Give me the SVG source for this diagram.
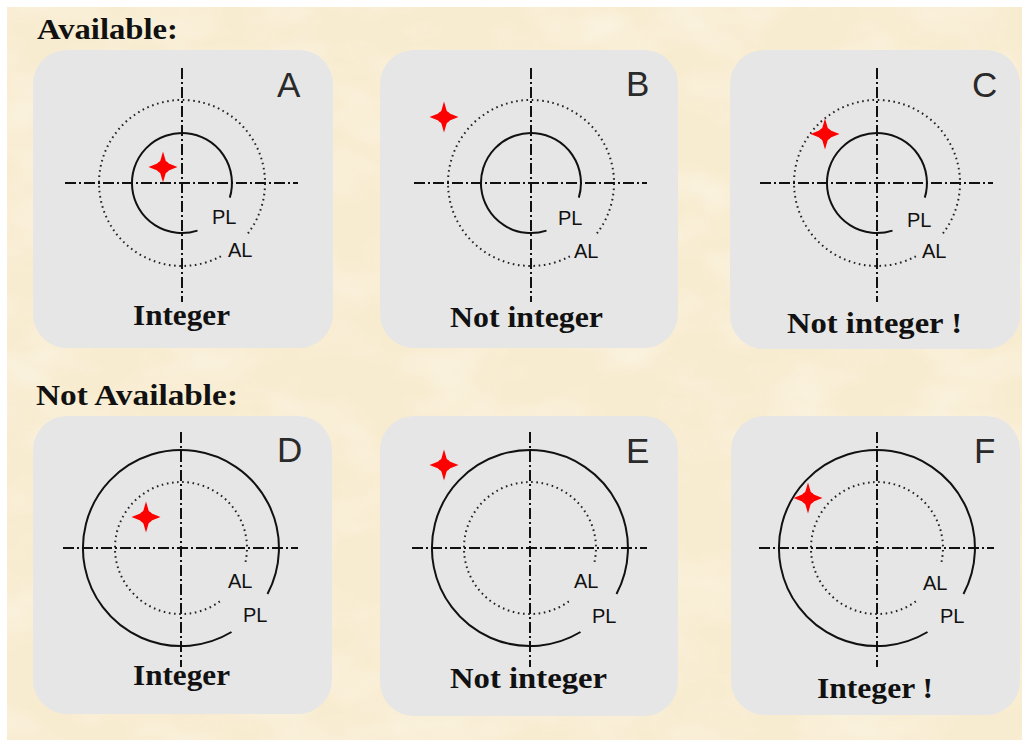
<svg xmlns="http://www.w3.org/2000/svg" width="1022" height="742" viewBox="0 0 1022 742">
<style>
.panel{fill:#e6e6e6}
.axis{fill:none;stroke:#111;stroke-width:2;stroke-dasharray:11 3 2 3}
.pl{fill:none;stroke:#111;stroke-width:2}
.al{fill:none;stroke:#222;stroke-width:2;stroke-dasharray:1.6 3.6}
.star{fill:#f00}
.letter{font-family:"Liberation Sans",Arial,sans-serif;font-size:35px;fill:#2a2a2a}
.lbl{font-family:"Liberation Sans",Arial,sans-serif;font-size:20px;fill:#111}
.cap{font-family:"Liberation Serif","Times New Roman",serif;font-weight:bold;font-size:29px;fill:#111}
.head{font-family:"Liberation Serif","Times New Roman",serif;font-weight:bold;font-size:29px;fill:#111}
</style>
<defs>
<filter id="tex" x="0" y="0" width="100%" height="100%">
<feTurbulence type="fractalNoise" baseFrequency="0.012 0.02" numOctaves="3" seed="7"/>
<feColorMatrix type="matrix" values="0 0 0 0 1  0 0 0 0 0.98  0 0 0 0 0.94  2.2 0 0 0 -0.95"/>
</filter>
<g id="star">
<path d="M0,-15.5 L3.2,-4.5 L14.5,0 L3.2,4.5 L0,15.5 L-3.2,4.5 L-14.5,0 L-3.2,-4.5 Z"/>
<circle r="6.6"/>
</g>
<g id="topGeom">
<line class="axis" x1="-117" y1="0" x2="116" y2="0"/>
<line class="axis" x1="0" y1="-115" x2="0" y2="119"/>
<path class="pl" d="M15.5,47.6 A50,50 0 1 1 47.8,14.6"/>
<path class="al" d="M38.9,73.3 A83,83 0 1 1 65.4,51.1"/>
</g>
<g id="botGeom">
<line class="axis" x1="-118" y1="0" x2="117" y2="0"/>
<line class="axis" x1="0" y1="-116" x2="0" y2="119"/>
<path class="pl" d="M50.5,84 A98,98 0 1 1 86.5,46"/>
<path class="al" d="M38.8,53.4 A66,66 0 1 1 64.3,14.8"/>
</g>
</defs>
<rect width="1022" height="742" fill="#ffffff"/>
<rect x="7" y="7" width="1015" height="733" fill="#f8ecd0"/>
<rect x="7" y="7" width="1015" height="733" filter="url(#tex)" opacity="0.4"/>

<text class="head" x="37" y="39" textLength="141" lengthAdjust="spacingAndGlyphs">Available:</text>
<text class="head" x="36" y="405" textLength="202" lengthAdjust="spacingAndGlyphs">Not Available:</text>

<g id="panelA">
<rect class="panel" x="33" y="50" width="300" height="298" rx="34"/>
<use href="#topGeom" transform="translate(182,183)"/>
<use href="#star" class="star" x="163" y="167"/>
<text class="letter" x="277" y="97">A</text>
<text class="lbl" x="212" y="224">PL</text>
<text class="lbl" x="228" y="257">AL</text>
<text class="cap" x="133" y="325" textLength="97" lengthAdjust="spacingAndGlyphs">Integer</text>
</g>

<g id="panelB">
<rect class="panel" x="380" y="50" width="298" height="298" rx="34"/>
<use href="#topGeom" transform="translate(531,183)"/>
<use href="#star" class="star" x="444" y="117"/>
<text class="letter" x="626" y="96">B</text>
<text class="lbl" x="558" y="225">PL</text>
<text class="lbl" x="574" y="258">AL</text>
<text class="cap" x="450" y="327" textLength="153" lengthAdjust="spacingAndGlyphs">Not integer</text>
</g>

<g id="panelC">
<rect class="panel" x="730" y="50" width="290" height="299" rx="34"/>
<use href="#topGeom" transform="translate(877,183)"/>
<use href="#star" class="star" x="825" y="134"/>
<text class="letter" x="972" y="97">C</text>
<text class="lbl" x="907" y="227">PL</text>
<text class="lbl" x="922" y="258">AL</text>
<text class="cap" x="787" y="333" textLength="175" lengthAdjust="spacingAndGlyphs">Not integer !</text>
</g>

<g id="panelD">
<rect class="panel" x="33" y="416" width="299" height="298" rx="34"/>
<use href="#botGeom" transform="translate(181,548)"/>
<use href="#star" class="star" x="146" y="517"/>
<text class="letter" x="277" y="462">D</text>
<text class="lbl" x="228" y="588">AL</text>
<text class="lbl" x="243" y="622">PL</text>
<text class="cap" x="133" y="685" textLength="97" lengthAdjust="spacingAndGlyphs">Integer</text>
</g>

<g id="panelE">
<rect class="panel" x="380" y="416" width="298" height="300" rx="34"/>
<use href="#botGeom" transform="translate(530,548)"/>
<use href="#star" class="star" x="444" y="465"/>
<text class="letter" x="626" y="463">E</text>
<text class="lbl" x="574" y="588">AL</text>
<text class="lbl" x="592" y="623">PL</text>
<text class="cap" x="450" y="688" textLength="157" lengthAdjust="spacingAndGlyphs">Not integer</text>
</g>

<g id="panelF">
<rect class="panel" x="731" y="416" width="289" height="299" rx="34"/>
<use href="#botGeom" transform="translate(877,548)"/>
<use href="#star" class="star" x="808" y="498"/>
<text class="letter" x="974" y="463">F</text>
<text class="lbl" x="923" y="590">AL</text>
<text class="lbl" x="940" y="623">PL</text>
<text class="cap" x="817" y="698" textLength="116" lengthAdjust="spacingAndGlyphs">Integer !</text>
</g>

<g id="connectors"></g>
</svg>
